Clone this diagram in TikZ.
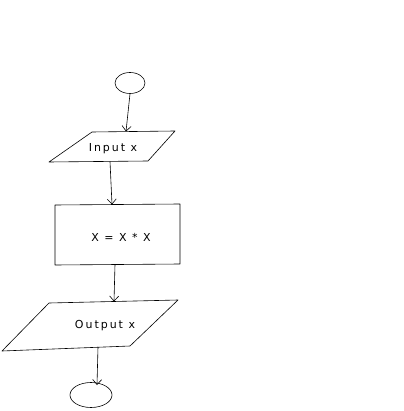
\documentclass[tikz,border=0pt]{standalone}
\usepackage{fontspec}
\usetikzlibrary{arrows.meta,shapes.geometric}
\newfontfamily\handfont{DejaVu Sans}[LetterSpace=18]
\begin{document}
\begin{tikzpicture}[x=1pt,y=-1pt,
  outline/.style={draw=black,line width=0.6pt,line join=round},
  flow/.style={draw=black,line width=0.6pt,-{Straight Barb[length=5pt,width=9pt]}},
  label/.style={font=\handfont\fontsize{11}{13}\selectfont,inner sep=0pt}]
\useasboundingbox (0,0) rectangle (403,411);
% start terminal
\node[outline,ellipse,minimum width=30pt,minimum height=21pt,inner sep=0pt] (start) at (130,83) {};
% input parallelogram
\draw[outline] (92,132) -- (175,131) -- (148,161) -- (49,162) -- cycle;
\node[label] (in) at (113,149) {Input x};
\coordinate (inTop) at (126,131.5);
\coordinate (inBot) at (110,161.5);
% process box
\draw[outline] (55,205) -- (180,204) -- (180,264) -- (55,265) -- cycle;
\node[label] (proc) at (121,237) {X\enspace=\enspace X\enspace*\enspace X};
\coordinate (procTop) at (112,204.5);
\coordinate (procBot) at (115,264.5);
% output parallelogram
\draw[outline] (49,303) -- (178,300) -- (130,346) -- (2,351) -- cycle;
\node[label] (out) at (105,326) {Output\enspace x};
\coordinate (outTop) at (114,301.5);
\coordinate (outBot) at (98,347);
% end terminal
\node[outline,ellipse,minimum width=42pt,minimum height=25pt,inner sep=0pt] (stop) at (91,395) {};
\coordinate (stopIn) at (97,385);
% connectors
\draw[flow] (start.south) -- (inTop);
\draw[flow] (inBot) -- (procTop);
\draw[flow] (procBot) -- (outTop);
\draw[flow] (outBot) -- (stopIn);
\end{tikzpicture}
\end{document}
